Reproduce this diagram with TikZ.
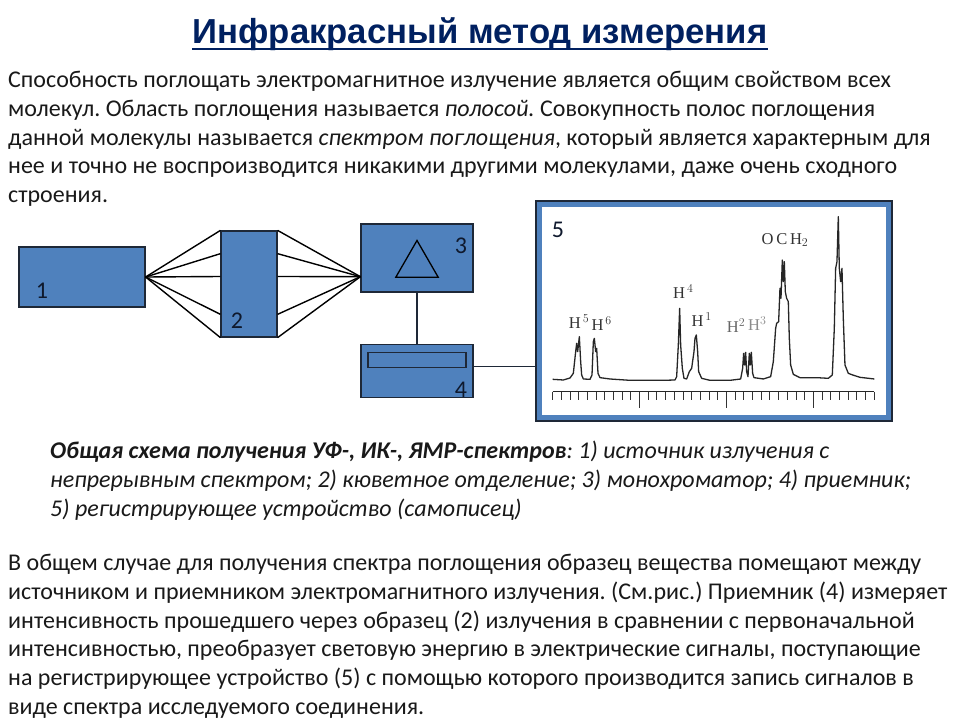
\documentclass[tikz,border=0pt]{standalone}
\usepackage{fontspec}
\setmainfont{Carlito}
\newfontfamily\titlefont{Liberation Sans}
\newfontfamily\spectrumfont{Liberation Serif}
\usepackage{tikz}
\usetikzlibrary{calc,positioning,shapes.geometric}
\definecolor{titleblue}{RGB}{0,32,96}
\definecolor{boxblue}{RGB}{79,129,189}
\definecolor{boxedge}{RGB}{30,40,55}
\definecolor{labelink}{RGB}{15,25,45}

\begin{document}
\frenchspacing
\begin{tikzpicture}[
  x=1pt, y=-1pt, line join=miter,
  textblock/.style={anchor=north west, align=left, inner sep=0pt, text=black!90,
                    font=\fontsize{24}{28.75}\selectfont},
  unit/.style={rectangle, draw=boxedge, fill=boxblue, line width=1.2pt, inner sep=0pt},
  num/.style={text=labelink, inner sep=0pt, font=\fontsize{24}{28}\selectfont},
  beam/.style={draw=black, line width=1.4pt},
  wire/.style={draw=boxedge, line width=1.4pt},
  peaklabel/.style={inner sep=0pt, text=black!80, font=\spectrumfont\fontsize{16.5}{18}\selectfont}]

  \useasboundingbox (0,0) rectangle (960,720);

  \node[inner sep=0pt, text=titleblue, font=\titlefont\bfseries\fontsize{34.7}{38}\selectfont] (title) at (480,34)
    {Инфракрасный метод измерения};
  \draw[titleblue, line width=2.4pt] ($(title.base west)+(0,5.5)$) -- ($(title.base east)+(0,5.5)$);

  \node[textblock] (intro) at (8,71)
    {Способность поглощать электромагнитное излучение является общим свойством всех\\
     молекул. Область поглощения называется \emph{полосой.} Совокупность полос поглощения\\
     данной молекулы называется \emph{спектром поглощения}, который является характерным для\\
     нее и точно не воспроизводится никакими другими молекулами, даже очень сходного\\
     строения.};

  \node[unit, minimum width=126pt, minimum height=60pt] (source) at (82,277) {};
  \node[unit, minimum width=56pt, minimum height=106pt] (cell) at (249,284) {};
  \node[unit, minimum width=112pt, minimum height=68pt] (mono) at (417,258) {};
  \node[unit, minimum width=112pt, minimum height=53pt] (detector) at (417,371) {};
  \node[draw=boxedge, line width=1.2pt, minimum width=98pt, minimum height=15.5pt, inner sep=0pt] (slit) at (417,360) {};
  \node[regular polygon, regular polygon sides=3, draw=black, line width=1.3pt, minimum size=49pt, inner sep=0pt] (prism) at (417,265) {};

  \coordinate (focusL) at (source.east);
  \coordinate (focusR) at ($(mono.north west)!0.77!(mono.south west)$);

  % rays fan out through the cell
  \foreach \f/\id in {0/a,0.217/b,0.43/c,0.783/d,1/e} {
    \coordinate (in\id) at ($(cell.north west)!\f!(cell.south west)$);
    \coordinate (out\id) at ($(cell.north east)!\f!(cell.south east)$);
    \draw[beam] (focusL) -- (in\id);
    \draw[beam] (out\id) -- (focusR);
  }

  \node[num] (n1) at (42,291) {1};
  \node[num] (n2) at (237,321) {2};
  \node[num] (n3) at (461,246) {3};
  \node[num] (n4) at (461,390) {4};

  \node[rectangle, draw=boxedge, fill=white, line width=1.2pt, minimum width=356pt, minimum height=220pt, inner sep=0pt] (recorder) at (714,311) {};
  \node[rectangle, draw=boxblue, line width=5pt, minimum width=349pt, minimum height=213pt, inner sep=0pt] (frame) at (714,311) {};

  \coordinate (tap) at ($(detector.north east)!0.42!(detector.south east)$);
  \draw[wire] (mono) -- (detector);
  \draw[draw=boxedge, line width=1.1pt] (tap) -- (recorder.west |- tap);

  \node[num] (n5) at (558,230) {5};

  \begin{scope}[shift={(530,195)}, x=0.3333pt, y=-0.3333pt]
    \draw[black!85, line width=1.3pt, line join=round] plot coordinates {
      (68,553) (100,555) (120,549) (130,535) (137,470) (140,445) (143,470) (148,425) (152,500) (155,540) (160,552)
      (180,553) (186,540) (190,440) (193,430) (197,470) (200,460) (204,535) (210,548) (240,552) (300,556) (400,556)
      (435,555) (440,545) (445,450) (449,340) (452,450) (457,520) (462,550) (470,552) (478,530) (485,520) (492,470)
      (495,430) (499,420) (503,470) (506,530) (515,550) (540,556) (600,556) (632,552) (638,520) (641,475) (644,510)
      (647,472) (650,530) (654,545) (658,475) (661,510) (664,472) (668,535) (672,548) (700,552) (722,545) (730,500)
      (737,400) (740,385) (746,380) (750,280) (753,310) (757,195) (760,260) (763,200) (766,290) (770,310) (775,320)
      (778,430) (782,510) (790,538) (810,548) (860,548) (895,550) (907,540) (913,400) (917,220) (921,200) (925,65)
      (928,220) (932,260) (936,220) (940,370) (945,510) (955,535) (968,540) (990,547) (1033,552)};
    \draw[black!85, line width=1pt] (68,590) -- (1033,590);
    \foreach \k in {0,...,37} {
      \pgfmathsetmacro{\tickx}{68+26.08*\k}
      \draw[black!80, line width=1pt] (\tickx,590) -- (\tickx,615);
    }
    \foreach \k in {10,20,30} {
      \pgfmathsetmacro{\tickx}{68+26.08*\k}
      \draw[black!80, line width=1.1pt] (\tickx,590) -- (\tickx,638);
    }
    \node[peaklabel] (h5) at (147,381) {H$^{\,5}$};
    \node[peaklabel] (h6) at (215,386) {H$^{\,6}$};
    \node[peaklabel] (h4) at (460,291) {H$^{\,4}$};
    \node[peaklabel] (h1) at (515,375) {H$^{\,1}$};
    \node[peaklabel, text=black!60] (h2) at (618,393) {H$^{2}$};
    \node[peaklabel, text=black!45] (h3) at (682,385) {H$^{3}$};
    \node[peaklabel] (och) at (765,135) {O\,C\,H$_{2}$};
  \end{scope}

  \node[textblock, font=\itshape\fontsize{24}{28.75}\selectfont] (caption) at (50,441)
    {\textbf{Общая схема получения УФ-, ИК-, ЯМР-спектров}: 1) источник излучения с\\
     непрерывным спектром; 2) кюветное отделение; 3) монохроматор; 4) приемник;\\
     5) регистрирующее устройство (самописец)};

  \node[textblock] (outro) at (8,554)
    {В общем случае для получения спектра поглощения образец вещества помещают между\\
     источником и приемником электромагнитного излучения. (См.рис.) Приемник (4) измеряет\\
     интенсивность прошедшего через образец (2) излучения в сравнении с первоначальной\\
     интенсивностью, преобразует световую энергию в электрические сигналы, поступающие\\
     на регистрирующее устройство (5) с помощью которого производится запись сигналов в\\
     виде спектра исследуемого соединения.};
\end{tikzpicture}
\end{document}
